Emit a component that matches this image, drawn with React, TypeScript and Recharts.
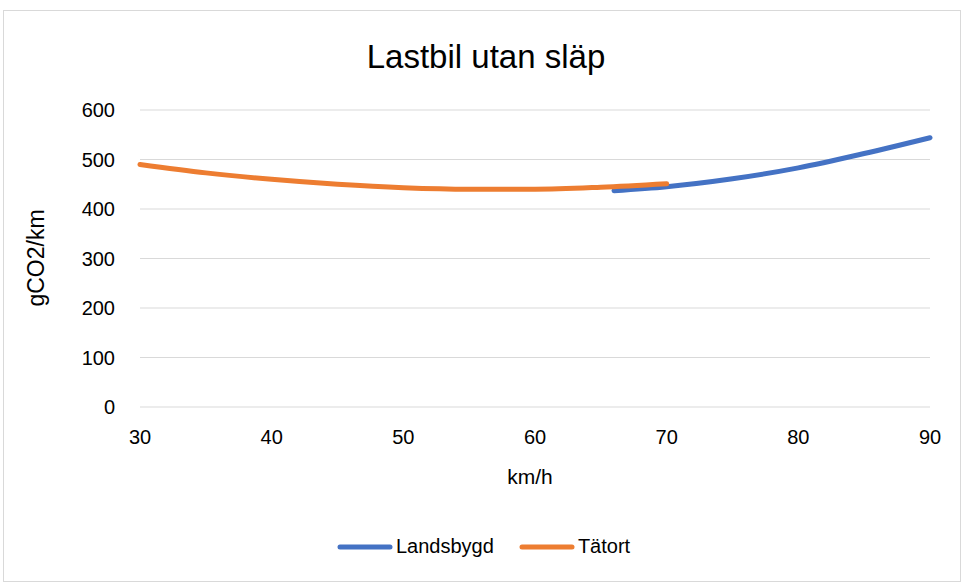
import { LineChart, Line, XAxis, YAxis, CartesianGrid } from "recharts";

const xTicks = [30, 40, 50, 60, 70, 80, 90];
const yTicks = [0, 100, 200, 300, 400, 500, 600];

// Tätort (urban)
const tatortSpeed = [30, 35, 40, 45, 50, 55, 60, 65, 70];
const tatortCo2 = [490, 473, 460, 450, 443, 440, 440, 444, 451];

// Landsbygd (rural)
const landSpeed = [66, 70, 75, 80, 85, 90];
const landCo2 = [437, 445, 461, 483, 512, 544];

const series = [
  { name: "Landsbygd", color: "#4472C4", xs: landSpeed, ys: landCo2 },
  { name: "Tätort", color: "#ED7D31", xs: tatortSpeed, ys: tatortCo2 },
];

const font = "'Liberation Sans', Arial, sans-serif";

export default function App() {
  return (
    <div
      style={{
        position: "absolute",
        left: 0,
        top: 0,
        width: 964,
        height: 585,
        background: "#fff",
        fontFamily: font,
      }}
    >
      <div
        style={{
          position: "absolute",
          left: 3,
          top: 10,
          width: 958,
          height: 572,
          border: "1px solid #d9d9d9",
          boxSizing: "border-box",
        }}
      />
      <div
        style={{
          position: "absolute",
          left: 0,
          width: 972,
          top: 37,
          textAlign: "center",
          fontSize: 33,
          lineHeight: "40px",
          color: "#000",
        }}
      >
        Lastbil utan släp
      </div>
      <div style={{ position: "absolute", left: 0, top: 0 }}>
        <LineChart
          width={964}
          height={585}
          margin={{ top: 110, right: 34, bottom: 138, left: 0 }}
        >
          <CartesianGrid vertical={false} stroke="#d9d9d9" strokeWidth={1} />
          <XAxis
            type="number"
            dataKey="x"
            domain={[30, 90]}
            ticks={xTicks}
            allowDuplicatedCategory={false}
            axisLine={false}
            tickLine={false}
            tickSize={0}
            tickMargin={23}
            height={40}
            tick={{ fontSize: 20, fill: "#000", fontFamily: font }}
          />
          <YAxis
            type="number"
            domain={[0, 600]}
            ticks={yTicks}
            axisLine={false}
            tickLine={false}
            tickSize={0}
            tickMargin={25}
            width={140}
            tick={{ fontSize: 20, fill: "#000", fontFamily: font }}
          />
          {series.map((s) => (
            <Line
              key={s.name}
              data={s.xs.map((x, i) => ({ x, y: s.ys[i] }))}
              dataKey="y"
              name={s.name}
              type="monotone"
              stroke={s.color}
              strokeWidth={5}
              strokeLinecap="round"
              dot={false}
              activeDot={false}
              isAnimationActive={false}
            />
          ))}
        </LineChart>
      </div>
      <div
        style={{
          position: "absolute",
          left: 36,
          top: 258,
          transform: "translate(-50%, -50%) rotate(-90deg)",
          fontSize: 23,
          color: "#000",
          whiteSpace: "nowrap",
        }}
      >
        gCO2/km
      </div>
      <div
        style={{
          position: "absolute",
          left: 530,
          top: 465,
          transform: "translateX(-50%)",
          fontSize: 21,
          color: "#000",
        }}
      >
        km/h
      </div>
      <div
        style={{
          position: "absolute",
          left: 337,
          top: 535,
          display: "flex",
          alignItems: "center",
          fontSize: 20,
          color: "#000",
        }}
      >
        {series.map((s, i) => (
          <div
            key={s.name}
            style={{ display: "flex", alignItems: "center", marginRight: i === 0 ? 25 : 0 }}
          >
            <svg width={56} height={8}>
              <line x1={3} y1={4} x2={53} y2={4} stroke={s.color} strokeWidth={5} strokeLinecap="round" />
            </svg>
            <span style={{ marginLeft: 3 }}>{s.name}</span>
          </div>
        ))}
      </div>
    </div>
  );
}
